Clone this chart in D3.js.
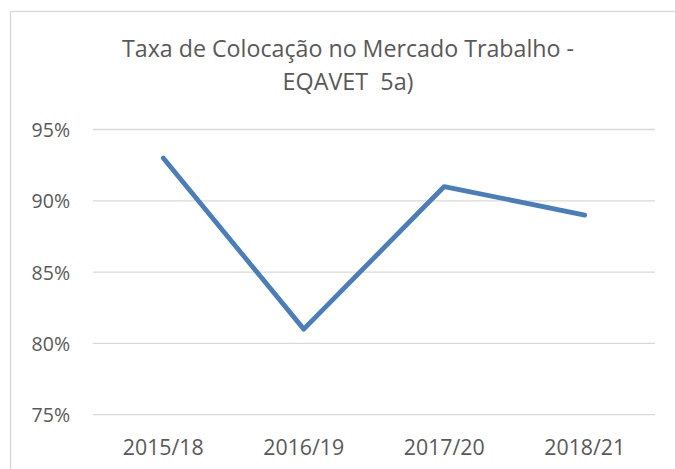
<!DOCTYPE html>
<html>
<head>
<meta charset="utf-8">
<script src="https://cdn.jsdelivr.net/npm/d3@7"></script>
<style>
  body { margin: 0; background: #fff; }
  svg text { font-family: "Open Sans", sans-serif; fill: #595959; white-space: pre; }
</style>
</head>
<body>
<div id="chart"></div>
<script>
// data
var categories = ["2015/18", "2016/19", "2017/20", "2018/21"];
var values = [93, 81, 91, 89];
var yTicks = [75, 80, 85, 90, 95];
var titleLines = ["Taxa de Colocação no Mercado Trabalho -", "EQAVET  5a)"];

var width = 675;
var height = 469;

var svg = d3.select("#chart")
    .append("svg")
    .attr("width", width)
    .attr("height", height);

// chart border (cropped at right / bottom)
svg.append("rect")
    .attr("x", 10.5)
    .attr("y", 11.5)
    .attr("width", 700)
    .attr("height", 500)
    .attr("fill", "#fff")
    .attr("stroke", "#d9d9d9")
    .attr("stroke-width", 1.3);

var plotLeft = 93, plotRight = 655, plotTop = 129.5, plotBottom = 414.7;

var xScale = d3.scaleBand()
    .domain(categories)
    .range([plotLeft, plotRight]);

var yScale = d3.scaleLinear()
    .domain([75, 95])
    .range([plotBottom, plotTop]);

// gridlines
svg.append("g")
    .selectAll("line")
    .data(yTicks)
    .enter()
    .append("line")
    .attr("x1", plotLeft)
    .attr("x2", plotRight)
    .attr("y1", function(d){ return yScale(d); })
    .attr("y2", function(d){ return yScale(d); })
    .attr("stroke", "#d9d9d9")
    .attr("stroke-width", 1.3);

// y labels
var yAxis = d3.axisLeft(yScale)
    .tickValues(yTicks)
    .tickSize(0)
    .tickPadding(0)
    .tickFormat(function(d){ return d + "%"; });

var gy = svg.append("g")
    .attr("transform", "translate(70,0)")
    .call(yAxis);
gy.select(".domain").remove();
gy.selectAll("text")
    .attr("font-size", 19.5)
    .attr("fill", "#595959")
    .attr("dy", "0.36em")
    .style("font-family", "'Open Sans', sans-serif");

// x labels
var xAxis = d3.axisBottom(xScale).tickSize(0).tickPadding(0);
var gx = svg.append("g")
    .attr("transform", "translate(0,455)")
    .call(xAxis);
gx.select(".domain").remove();
gx.selectAll("text")
    .attr("dy", 0)
    .attr("font-size", 22.5)
    .attr("fill", "#595959")
    .attr("textLength", 81)
    .attr("lengthAdjust", "spacingAndGlyphs")
    .style("font-family", "'Open Sans', sans-serif");

// line
var line = d3.line()
    .x(function(d, i){ return xScale(categories[i]) + xScale.bandwidth() / 2; })
    .y(function(d){ return yScale(d); });

svg.append("path")
    .datum(values)
    .attr("d", line)
    .attr("fill", "none")
    .attr("stroke", "#4a7ebb")
    .attr("stroke-width", 4.8)
    .attr("stroke-linecap", "round")
    .attr("stroke-linejoin", "round");

// title
svg.append("text")
    .attr("x", 348)
    .attr("y", 57.3)
    .attr("text-anchor", "middle")
    .attr("font-size", 23)
    .attr("textLength", 452)
    .attr("lengthAdjust", "spacingAndGlyphs")
    .text(titleLines[0]);

svg.append("text")
    .attr("x", 348)
    .attr("y", 90)
    .attr("text-anchor", "middle")
    .attr("font-size", 23)
    .attr("textLength", 131)
    .attr("lengthAdjust", "spacingAndGlyphs")
    .text(titleLines[1]);
</script>
</body>
</html>
